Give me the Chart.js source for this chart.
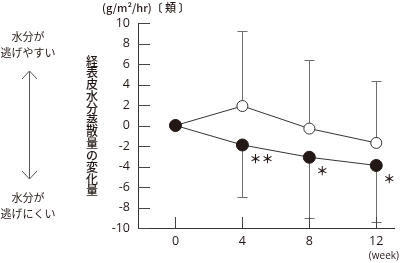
<!DOCTYPE html>
<html>
<head>
<meta charset="utf-8">
<script src="https://cdn.jsdelivr.net/npm/chart.js@4/dist/chart.umd.min.js"></script>
<style>
  html, body { margin: 0; padding: 0; background: #fff; }
  #chart { display: block; }
</style>
</head>
<body>
<canvas id="chart" width="401" height="263"></canvas>
<script>
const weeks = [0, 4, 8, 12];
const openVals = [0, 1.9, -0.3, -1.7];
const openErrUp = [0, 7.3, 6.7, 6.0];
const filledVals = [0, -1.9, -3.1, -3.9];
const filledErrDown = [0, 5.1, 5.9, 5.5];
const sigMarks = ['', '＊＊', '＊', '＊'];
const xTickVals = [0, 4, 8, 12];

const ink = '#231815';
const jpFont = '"Noto Sans CJK JP", sans-serif';
const numFont = '"Open Sans", "Noto Sans", sans-serif';

const extrasPlugin = {
  id: 'extras',
  beforeDatasetsDraw(chart) {
    const c = chart.ctx;
    const xs = chart.scales.x, ys = chart.scales.y;
    c.save();
    c.strokeStyle = '#6e6e6e';
    c.lineWidth = 1;
    weeks.forEach((w, i) => {
      const px = Math.round(xs.getPixelForValue(w)) + 0.5;
      const bars = [[openVals[i], openVals[i] + openErrUp[i], openErrUp[i]],
                    [filledVals[i], filledVals[i] - filledErrDown[i], filledErrDown[i]]];
      for (const [v, end, e] of bars) {
        if (!e) continue;
        const y0 = ys.getPixelForValue(v);
        const y1 = Math.round(ys.getPixelForValue(end)) + 0.5;
        c.beginPath();
        c.moveTo(px, y0);
        c.lineTo(px, y1);
        c.moveTo(px - 5, y1);
        c.lineTo(px + 5, y1);
        c.stroke();
      }
    });
    c.restore();
  },
  afterDraw(chart) {
    const c = chart.ctx;
    const xs = chart.scales.x, ys = chart.scales.y;
    const area = chart.chartArea;
    c.save();
    // inner tick marks
    c.strokeStyle = '#444';
    c.lineWidth = 1;
    c.beginPath();
    ys.ticks.forEach(t => {
      const py = Math.round(ys.getPixelForValue(t.value)) + 0.5;
      c.moveTo(area.left, py);
      c.lineTo(area.left + 12, py);
    });
    xs.ticks.forEach(t => {
      const px = Math.round(xs.getPixelForValue(t.value)) + 0.5;
      c.moveTo(px, area.bottom);
      c.lineTo(px, area.bottom - 11);
    });
    c.stroke();

    // significance marks
    c.fillStyle = ink;
    c.font = 'bold 12px ' + jpFont;
    c.textAlign = 'left';
    c.textBaseline = 'middle';
    weeks.forEach((w, i) => {
      if (!sigMarks[i]) return;
      const px = xs.getPixelForValue(w);
      const py = ys.getPixelForValue(filledVals[i]);
      c.fillText(sigMarks[i], px + 7, py + 14);
    });

    // unit and axis title
    c.font = '500 11px ' + jpFont;
    c.textAlign = 'left';
    c.fillText('(g/m²/hr)〔 頬 〕', 102, 8);
    c.font = '10px ' + numFont;
    c.textAlign = 'right';
    c.fillText('(week)', 399, 256);

    c.font = '500 12px ' + jpFont;
    c.textAlign = 'center';
    const title = '経表皮水分蒸散量の変化量';
    for (let i = 0; i < title.length; i++) {
      c.fillText(title[i], 92, 61 + i * 11.8);
    }

    // left annotation
    c.font = '11px ' + jpFont;
    c.fillText('水分が', 28, 37);
    c.fillText('逃げやすい', 28, 53);
    c.fillText('水分が', 28, 198);
    c.fillText('逃げにくい', 28, 214);

    c.strokeStyle = '#555';
    c.beginPath();
    c.moveTo(29.5, 71);
    c.lineTo(29.5, 179);
    c.moveTo(22, 79);
    c.lineTo(29.5, 71);
    c.lineTo(37, 79);
    c.moveTo(22, 171);
    c.lineTo(29.5, 179);
    c.lineTo(37, 171);
    c.stroke();
    c.restore();
  }
};

new Chart(document.getElementById('chart'), {
  type: 'line',
  data: {
    datasets: [
      {
        data: weeks.map((w, i) => ({ x: w, y: openVals[i] })),
        order: 1,
        borderColor: '#333',
        borderWidth: 1,
        pointRadius: 5.5,
        pointBackgroundColor: '#fff',
        pointBorderColor: '#333',
        pointBorderWidth: 1,
        tension: 0
      },
      {
        data: weeks.map((w, i) => ({ x: w, y: filledVals[i] })),
        order: 0,
        borderColor: '#333',
        borderWidth: 1,
        pointRadius: 6,
        pointBackgroundColor: ink,
        pointBorderColor: ink,
        pointBorderWidth: 1,
        tension: 0
      }
    ]
  },
  options: {
    responsive: false,
    animation: false,
    devicePixelRatio: 1,
    layout: { padding: { top: 23, right: 3, left: 0, bottom: 0 } },
    plugins: { legend: { display: false }, tooltip: { enabled: false } },
    scales: {
      x: {
        type: 'linear',
        min: -2.24,
        max: 13.06,
        afterBuildTicks: s => { s.ticks = xTickVals.map(v => ({ value: v })); },
        afterFit: s => { s.height = 35; s.paddingLeft = 0; s.paddingRight = 0; },
        border: { display: true, color: '#333', width: 1 },
        grid: { display: false, drawTicks: false },
        ticks: {
          padding: 6,
          color: ink,
          font: { family: numFont, size: 12.5 }
        }
      },
      y: {
        min: -10,
        max: 10,
        afterFit: s => { s.width = 138; },
        border: { display: true, color: '#333', width: 1 },
        grid: { display: false, drawTicks: false },
        ticks: {
          stepSize: 2,
          padding: 8,
          color: ink,
          font: { family: numFont, size: 12.5 }
        }
      }
    }
  },
  plugins: [extrasPlugin]
});
</script>
</body>
</html>
